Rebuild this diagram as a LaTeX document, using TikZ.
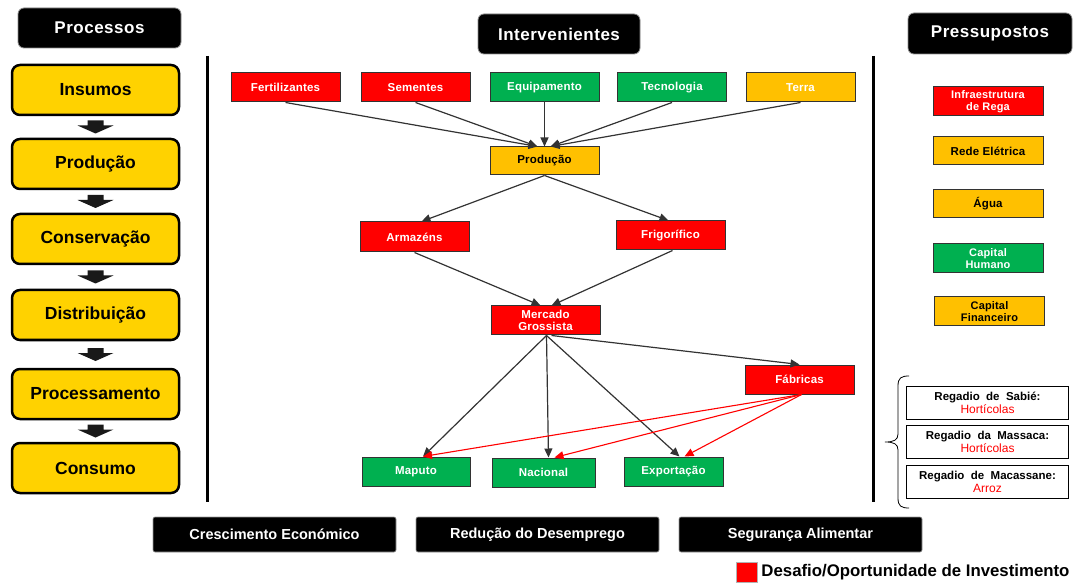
\documentclass[tikz,border=0pt]{standalone}
\usepackage{fontspec}
\setmainfont{Liberation Sans}
\usetikzlibrary{arrows.meta,calc}
\definecolor{rd}{HTML}{FF0000}
\definecolor{gr}{HTML}{00B050}
\definecolor{og}{HTML}{FFC000}
\definecolor{yl}{HTML}{FFD200}
\newcommand\fsz[2]{\fontsize{#1}{#2}\selectfont}
\begin{document}
\begin{tikzpicture}[x=1pt,y=-1pt,
  hdr/.style={fill=black,draw=black!45,line width=0.8pt,rounded corners=6pt,text=white,
    font=\fsz{17}{20}\bfseries\addfontfeature{LetterSpace=3},minimum width=163pt,minimum height=40pt,inner sep=0pt},
  procbox/.style={fill=yl,draw=black,line width=2.5pt,rounded corners=8pt,
    font=\fsz{17.5}{20}\bfseries,minimum width=167pt,minimum height=50pt,inner sep=0pt},
  mid/.style={draw=black!80,line width=1pt,minimum width=109pt,minimum height=29pt,inner sep=0pt,
    align=center,font=\fsz{11.5}{12.5}\bfseries\addfontfeature{LetterSpace=1.5}},
  rbox/.style={mid,fill=rd,text=white},
  gbox/.style={mid,fill=gr,text=white},
  obox/.style={mid,fill=og,text=black},
  owbox/.style={mid,fill=og,text=white},
  regbox/.style={draw=black,line width=1.2pt,fill=white,minimum width=162pt,minimum height=33pt,
    inner sep=0pt,align=center,font=\fsz{11.5}{12.8}\bfseries},
  goal/.style={fill=black,draw=black!40,line width=0.6pt,rounded corners=2pt,text=white,
    minimum width=243pt,minimum height=35pt,inner sep=0pt,font=\fsz{14.5}{16}\bfseries},
  arr/.style={draw=black!80,line width=1.2pt,-{Triangle[length=9pt,width=8pt]}},
  rarr/.style={draw=rd,line width=1.1pt,-{Triangle[length=9pt,width=8pt]}}
]
\useasboundingbox (0,0) rectangle (1079,585);

% headers
\node[hdr] (proc) at (99.5,28) {Processos};
\node[hdr,minimum width=162pt] (inter) at (559,34) {Intervenientes};
\node[hdr,minimum width=164pt,minimum height=41pt] (press) at (990,33.5) {Pressupostos};

% process column
\node[procbox] (insumos) at (95.5,90) {Insumos};
\node[procbox] (producaoL) at (95.5,164) {Produção};
\node[procbox] (conservacao) at (95.5,239) {Conservação};
\node[procbox] (distribuicao) at (95.5,315) {Distribuição};
\node[procbox] (processamento) at (95.5,394) {Processamento};
\node[procbox] (consumo) at (95.5,468) {Consumo};
\foreach \a/\b in {insumos/producaoL,producaoL/conservacao,conservacao/distribuicao,distribuicao/processamento,processamento/consumo}{
  \path (\a.south) -- (\b.north) coordinate[pos=0.5] (m);
  \begin{scope}[shift={(m)}]
    \fill[black!90] (-8,-6.5) -- (8,-6.5) -- (8,-1.5) -- (18,-1.5) -- (0,6.5) -- (-18,-1.5) -- (-8,-1.5) -- cycle;
  \end{scope}
}

% separators
\draw[line width=3pt] (207,56) -- (207,502);
\draw[line width=3pt] (873,56) -- (873,502);

% intervenientes
\node[rbox] (fert) at (285.5,87.5) {Fertilizantes};
\node[rbox] (sem) at (415.5,87.5) {Sementes};
\node[gbox] (equip) at (544.5,87.5) {Equipamento};
\node[gbox] (tec) at (672,87.5) {Tecnologia};
\node[owbox] (terra) at (800.5,87.5) {Terra};
\node[obox,minimum height=28pt] (prodM) at (544.5,161) {Produção};
\node[rbox,minimum height=30pt] (arm) at (414.5,237) {Armazéns};
\node[rbox] (frig) at (670.5,235.5) {Frigorífico};
\node[rbox] (merc) at (545.5,320.5) {Mercado\\Grossista};
\node[rbox] (fab) at (799.5,379.5) {Fábricas};
\node[gbox,minimum width=108pt] (maputo) at (416,471.5) {Maputo};
\node[gbox,minimum width=103pt] (nacional) at (543.5,472.5) {Nacional};
\node[gbox,minimum width=99pt] (export) at (673.5,471.5) {Exportação};

\draw[arr] (fert.south) -- ([xshift=-7pt]prodM.north);
\draw[arr] (sem.south) -- ([xshift=-7pt]prodM.north);
\draw[arr] (equip.south) -- (prodM.north);
\draw[arr] (tec.south) -- ([xshift=6pt]prodM.north);
\draw[arr] (terra.south) -- ([xshift=6pt]prodM.north);
\draw[arr] (prodM.south) -- ([xshift=7pt]arm.north);
\draw[arr] (prodM.south) -- ([xshift=-2pt]frig.north);
\draw[arr] (arm.south) -- ([xshift=-5pt]merc.north);
\draw[arr] ([xshift=2pt]frig.south) -- ([xshift=6pt]merc.north);
\draw[arr] ([xshift=1pt]merc.south) -- ([xshift=7pt]maputo.north);
\draw[arr] ([xshift=1pt]merc.south) -- ([xshift=5pt]nacional.north);
\draw[arr] ([xshift=1pt]merc.south) -- ([xshift=6pt]export.north);
\draw[arr] ([xshift=6pt]merc.south) -- ([xshift=0pt]fab.north);
\draw[rarr] ([xshift=2pt]fab.south) -- ([xshift=7pt]maputo.north);
\draw[rarr] ([xshift=2pt]fab.south) -- ([xshift=11pt]nacional.north);
\draw[rarr] ([xshift=2pt]fab.south) -- ([xshift=11pt]export.north);

% pressupostos
\node[rbox,minimum width=110pt,font=\fsz{11}{12}\bfseries\addfontfeature{LetterSpace=1.5}] (infra) at (988,101.5) {Infraestrutura\\de Rega};
\node[obox,minimum width=110pt,minimum height=28pt] (rede) at (988,151) {Rede Elétrica};
\node[obox,minimum width=110pt,minimum height=28pt] (agua) at (988,204) {Água};
\node[gbox,minimum width=110pt,font=\fsz{11}{12}\bfseries\addfontfeature{LetterSpace=1.5}] (caphum) at (988,258.5) {Capital\\Humano};
\node[obox,minimum width=110pt,font=\fsz{11}{12}\bfseries\addfontfeature{LetterSpace=1.5}] (capfin) at (989.5,311.5) {Capital\\Financeiro};

% brace and regadios
\draw[line width=0.8pt] (909,376) .. controls (901,376) and (898,378) .. (898,386) -- (898,434)
  .. controls (898,440) and (894,442) .. (885,442) .. controls (894,442) and (898,444) .. (898,450)
  -- (898,498) .. controls (898,506) and (901,508) .. (909,508);
\node[regbox] (sabie) at (987.5,403) {Regadio\ \ de\ \ Sabié:\\{\mdseries\color{rd}\fsz{12}{12.8}Hortícolas}};
\node[regbox] (massaca) at (987.5,442) {Regadio\ \ da\ \ Massaca:\\{\mdseries\color{rd}\fsz{12}{12.8}Hortícolas}};
\node[regbox] (macassane) at (987.5,482) {Regadio\ \ de\ \ Macassane:\\{\mdseries\color{rd}\fsz{12}{12.8}Arroz}};

% goals
\node[goal] (cresc) at (274.5,534.5) {Crescimento Económico};
\node[goal] (reduc) at (537.5,534.5) {Redução do Desemprego};
\node[goal] (seg) at (800.5,534.5) {Segurança Alimentar};

% legend
\node[fill=rd,draw=black!30,line width=0.5pt,minimum width=21pt,minimum height=20pt,inner sep=0pt] (legsq) at (746.5,572) {};
\node[anchor=west,inner sep=0pt,font=\fsz{16.8}{18}\bfseries] (legtxt) at ([xshift=4pt]legsq.east) {Desafio/Oportunidade de Investimento};
\end{tikzpicture}
\end{document}
